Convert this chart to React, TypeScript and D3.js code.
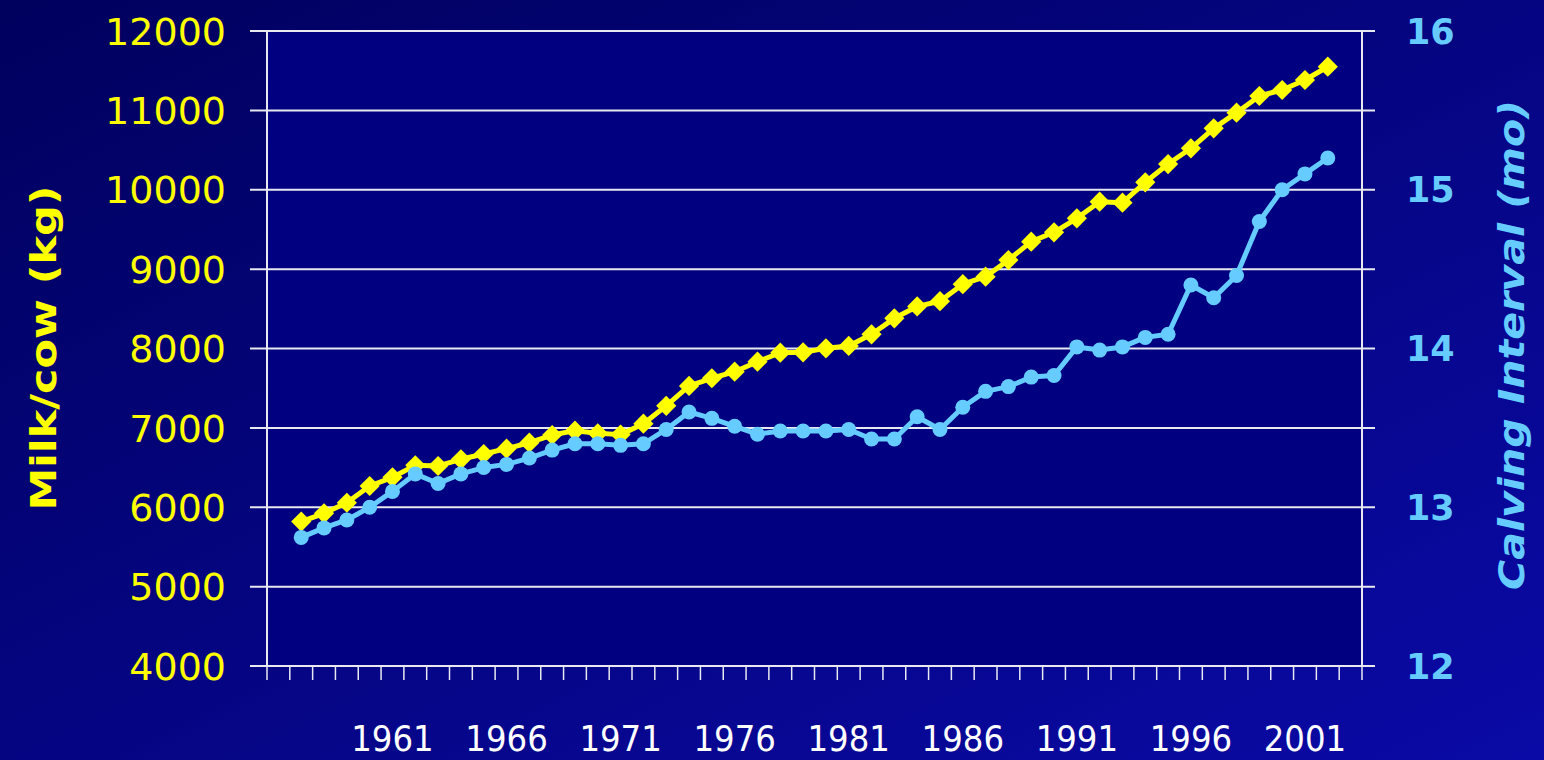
import React, { useEffect } from 'react';
import * as d3 from 'd3';

const categories = d3.range(1956, 2004);
const years = d3.range(1957, 2003);
const milk = [5820, 5924, 6057, 6268, 6377, 6528, 6520, 6604, 6671, 6738, 6813, 6910, 6965, 6931, 6915,
  7053, 7278, 7528, 7625, 7708, 7834, 7947, 7952, 8002, 8032, 8179, 8380, 8530, 8596, 8811, 8905,
  9115, 9346, 9464, 9640, 9850, 9837, 10094, 10324, 10522, 10774, 10971, 11181, 11257, 11383, 11550];
const calving = [12.81, 12.87, 12.92, 13.0, 13.1, 13.21, 13.15, 13.21, 13.25, 13.27, 13.31, 13.36, 13.4, 13.4,
  13.39, 13.4, 13.49, 13.6, 13.56, 13.51, 13.46, 13.48, 13.48, 13.48, 13.49, 13.43, 13.43, 13.57, 13.49,
  13.63, 13.73, 13.76, 13.82, 13.83, 14.01, 13.99, 14.01, 14.07, 14.09, 14.4, 14.32, 14.46, 14.8, 15.0, 15.1, 15.2];
const milkTicks = [4000, 5000, 6000, 7000, 8000, 9000, 10000, 11000, 12000];
const calvTicks = [12, 13, 14, 15, 16];
const yearLabels = [1961, 1966, 1971, 1976, 1981, 1986, 1991, 1996, 2001];

const W = 1544, H = 760;
const left = 267, right = 1362, top = 31, bottom = 666;
const YELLOW = '#ffff00';
const BLUE = '#66ccff';
const GRID = '#e8e8f0';

export default function App() {
  useEffect(() => {
    document.body.style.margin = '0';
  }, []);

  const x = d3.scaleBand<number>().domain(categories).range([left, right]);
  const cx = (yr: number) => (x(yr) as number) + x.bandwidth() / 2;
  const yL = d3.scaleLinear().domain([4000, 12000]).range([bottom, top]);
  const yR = d3.scaleLinear().domain([12, 16]).range([bottom, top]);

  const milkLine = d3.line<number>().x((d, i) => cx(years[i])).y(d => yL(d))(milk) as string;
  const calvLine = d3.line<number>().x((d, i) => cx(years[i])).y(d => yR(d))(calving) as string;
  const diamond = d3.symbol().type(d3.symbolDiamond2).size(260)() as string;

  const tickXs = categories.map(c => x(c) as number).concat([right]);

  return (
    <svg width={W} height={H} style={{ display: 'block', position: 'absolute', left: 0, top: 0 }}>
      <defs>
        <linearGradient id="bg" x1="0" y1="0" x2="1" y2="1">
          <stop offset="0%" stopColor="#00005e" />
          <stop offset="100%" stopColor="#0a0aa6" />
        </linearGradient>
      </defs>
      <rect width={W} height={H} fill="url(#bg)" />
      <rect x={left} y={top} width={right - left} height={bottom - top} fill="#000080" />

      {milkTicks.map(t => (
        <line key={'g' + t} x1={250} x2={right + 13} y1={yL(t)} y2={yL(t)} stroke={GRID} strokeWidth={2} />
      ))}
      <line x1={left} x2={left} y1={top} y2={bottom} stroke={GRID} strokeWidth={2} />
      <line x1={right} x2={right} y1={top} y2={bottom} stroke={GRID} strokeWidth={2} />
      {tickXs.map((t, i) => (
        <line key={'xt' + i} x1={t} x2={t} y1={bottom} y2={bottom + 14} stroke={GRID} strokeWidth={1.5} />
      ))}

      {milkTicks.map(t => (
        <text key={'lt' + t} x={226} y={yL(t)} dy="0.36em" textAnchor="end" fill={YELLOW}
          fontFamily="DejaVu Sans" fontSize={38}>{t}</text>
      ))}
      {calvTicks.map(t => (
        <text key={'rt' + t} x={1406} y={yR(t)} dy="0.36em" textAnchor="start" fill={BLUE}
          fontFamily="DejaVu Sans" fontWeight="bold" fontSize={35}>{t}</text>
      ))}
      {yearLabels.map(yr => (
        <text key={'yl' + yr} x={cx(yr)} y={751} textAnchor="middle" fill="#ffffff"
          fontFamily="DejaVu Sans Condensed, DejaVu Sans" fontSize={36}>{yr}</text>
      ))}

      <text transform="translate(56,348) rotate(-90)" textAnchor="middle" fill={YELLOW}
        fontFamily="DejaVu Sans" fontWeight="bold" fontSize={36}
        textLength={325} lengthAdjust="spacingAndGlyphs">Milk/cow (kg)</text>
      <text transform="translate(1524,345) rotate(-90)" textAnchor="middle" fill={BLUE}
        fontFamily="DejaVu Sans" fontWeight="bold" fontStyle="italic" fontSize={36}
        textLength={490} lengthAdjust="spacingAndGlyphs">Calving Interval (mo)</text>

      <path d={milkLine} fill="none" stroke={YELLOW} strokeWidth={5} strokeLinejoin="round" />
      {milk.map((v, i) => (
        <path key={'m' + i} d={diamond} transform={`translate(${cx(years[i])},${yL(v)})`} fill={YELLOW} />
      ))}
      <path d={calvLine} fill="none" stroke={BLUE} strokeWidth={5} strokeLinejoin="round" />
      {calving.map((v, i) => (
        <circle key={'c' + i} cx={cx(years[i])} cy={yR(v)} r={7.5} fill={BLUE} />
      ))}
    </svg>
  );
}
